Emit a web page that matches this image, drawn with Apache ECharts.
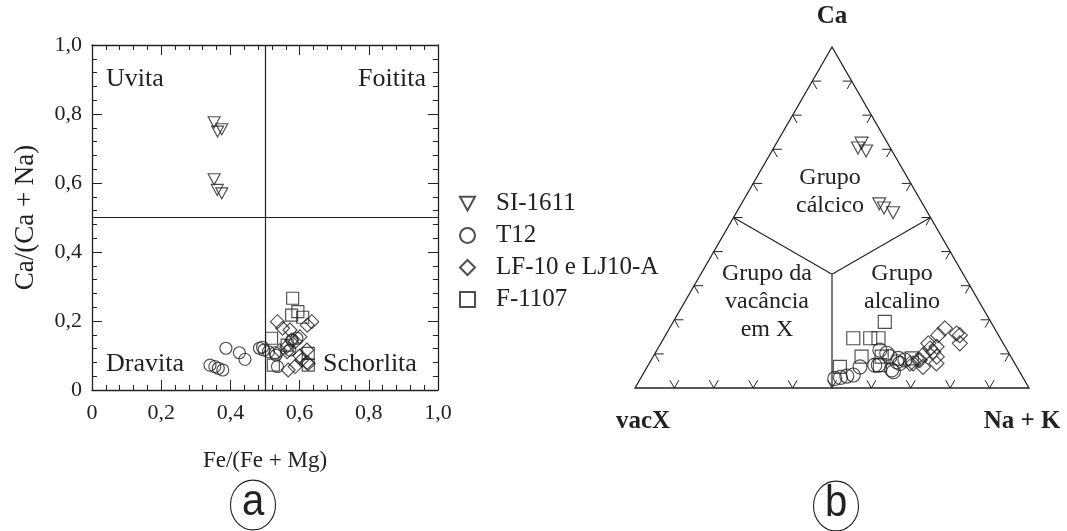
<!DOCTYPE html>
<html>
<head>
<meta charset="utf-8">
<script src="https://cdn.jsdelivr.net/npm/echarts@6.0.0/dist/echarts.min.js"></script>
<style>
  html, body { margin: 0; padding: 0; background: #fff; }
  #chart { width: 1067px; height: 531px; }
</style>
</head>
<body>
<div id="chart"></div>
<script>
// ---- Panel (a): Fe/(Fe + Mg) vs Ca/(Ca + Na), pairs [x, y] ----
const si1611A = [[0.353, 0.776], [0.375, 0.756], [0.363, 0.749], [0.353, 0.611], [0.362, 0.580], [0.375, 0.570]];
const t12A = [[0.341, 0.072], [0.355, 0.068], [0.365, 0.063], [0.378, 0.058], [0.387, 0.121], [0.426, 0.108],
  [0.442, 0.089], [0.484, 0.121], [0.493, 0.124], [0.497, 0.116], [0.510, 0.111], [0.529, 0.108],
  [0.532, 0.101], [0.536, 0.068], [0.572, 0.116], [0.578, 0.145], [0.592, 0.150]];
const lfA = [[0.536, 0.198], [0.551, 0.179], [0.635, 0.198], [0.622, 0.188], [0.601, 0.154], [0.587, 0.140],
  [0.577, 0.145], [0.563, 0.126], [0.543, 0.114], [0.564, 0.111], [0.601, 0.099], [0.621, 0.116],
  [0.606, 0.087], [0.621, 0.079], [0.625, 0.077], [0.587, 0.068], [0.567, 0.058], [0.572, 0.174]];
const f1107A = [[0.580, 0.266], [0.577, 0.217], [0.595, 0.227], [0.609, 0.211], [0.519, 0.150], [0.524, 0.072],
  [0.625, 0.106], [0.625, 0.072], [0.564, 0.130]];

// ---- Panel (b): ternary Ca – vacX – (Na + K), triples [Ca, Na+K, vacX] ----
const si1611B = [[0.718, 0.216, 0.066], [0.695, 0.239, 0.066], [0.704, 0.214, 0.082],
  [0.540, 0.350, 0.110], [0.528, 0.368, 0.104], [0.514, 0.398, 0.088]];
const t12B = [[0.028, 0.493, 0.479], [0.031, 0.506, 0.463], [0.035, 0.520, 0.445], [0.038, 0.535, 0.427],
  [0.062, 0.540, 0.398], [0.067, 0.575, 0.358], [0.102, 0.588, 0.310], [0.053, 0.625, 0.322],
  [0.077, 0.626, 0.297], [0.072, 0.636, 0.292], [0.087, 0.625, 0.288], [0.067, 0.584, 0.349],
  [0.092, 0.601, 0.307], [0.048, 0.632, 0.320], [0.111, 0.566, 0.323], [0.082, 0.644, 0.274]];
const lfB = [[0.175, 0.699, 0.126], [0.155, 0.747, 0.098], [0.131, 0.759, 0.110], [0.155, 0.692, 0.153],
  [0.116, 0.691, 0.193], [0.121, 0.705, 0.174], [0.097, 0.683, 0.220], [0.082, 0.678, 0.240],
  [0.072, 0.670, 0.258], [0.062, 0.700, 0.238], [0.072, 0.729, 0.199], [0.092, 0.720, 0.188],
  [0.106, 0.704, 0.190], [0.131, 0.679, 0.190], [0.160, 0.736, 0.104], [0.082, 0.682, 0.236],
  [0.072, 0.662, 0.266]];
const f1107B = [[0.194, 0.537, 0.269], [0.146, 0.481, 0.373], [0.146, 0.524, 0.330], [0.146, 0.545, 0.309],
  [0.092, 0.529, 0.379], [0.092, 0.580, 0.328], [0.087, 0.659, 0.254], [0.062, 0.489, 0.449],
  [0.067, 0.588, 0.345]];

// ticks along each side of the triangle
const ternaryTicks = [0.1, 0.2, 0.3, 0.4, 0.5, 0.6, 0.7, 0.8, 0.9];
// field boundaries: from the centroid to the middle of each side, [Ca, Na+K]
const fieldCentre = [1 / 3, 1 / 3];
const fieldEnds = [[0.5, 0], [0.5, 0.5], [0, 0.5]];

const seriesNames = ['SI-1611', 'T12', 'LF-10 e LJ10-A', 'F-1107'];

const INK = '#222';
const SERIF = '"Liberation Serif", "Times New Roman", serif';
const SQ3 = Math.sqrt(3) / 2;

// ternary [Ca, Na+K] -> cartesian (vacX at origin, Na+K at x = 1)
function tern(ca, nak) { return [nak + ca / 2, ca * SQ3]; }

const hollow = { color: 'rgba(0,0,0,0)', borderColor: INK, borderWidth: 1.15 };
const downTri = 'path://M0,0 L12,0 L6,11 Z';

const symbols = {
  'SI-1611': { symbol: downTri, a: [12, 11], b: [13, 12] },
  'T12': { symbol: 'circle', a: 12, b: 14 },
  'LF-10 e LJ10-A': { symbol: 'diamond', a: 14, b: 15 },
  'F-1107': { symbol: 'rect', a: 12, b: 13 }
};

const dataA = { 'SI-1611': si1611A, 'T12': t12A, 'LF-10 e LJ10-A': lfA, 'F-1107': f1107A };
const dataB = { 'SI-1611': si1611B, 'T12': t12B, 'LF-10 e LJ10-A': lfB, 'F-1107': f1107B };

function tickLabel(v) {
  if (v === 0) return '0';
  return v.toFixed(1).replace('.', ',');
}

const tickCommon = {
  axisLine: { show: true, onZero: false, lineStyle: { color: INK, width: 1.3 } },
  axisTick: { show: true, inside: true, length: 10, lineStyle: { color: INK, width: 1 } },
  minorTick: { show: true, splitNumber: 5, length: 5, lineStyle: { color: INK, width: 1 } },
  splitLine: { show: false },
  minorSplitLine: { show: false }
};

function renderTernaryFrame(params, api) {
  const P = (ca, nak) => api.coord(tern(ca, nak));
  const lineStyle = { stroke: INK, lineWidth: 1.2, fill: null };
  const children = [];
  const apex = P(1, 0), vac = P(0, 0), nak = P(0, 1);
  children.push({ type: 'polygon', shape: { points: [apex, vac, nak] },
    style: { stroke: INK, lineWidth: 1.3, fill: null } });
  const c = P(fieldCentre[0], fieldCentre[1]);
  fieldEnds.forEach(e => {
    const m = P(e[0], e[1]);
    children.push({ type: 'line', shape: { x1: c[0], y1: c[1], x2: m[0], y2: m[1] }, style: lineStyle });
  });
  const L = 9;
  const seg = (p, dx, dy) => ({ type: 'line',
    shape: { x1: p[0], y1: p[1], x2: p[0] + dx * L, y2: p[1] + dy * L }, style: { stroke: INK, lineWidth: 1 } });
  ternaryTicks.forEach(f => {
    const b = P(0, f);        // base
    children.push(seg(b, -0.5, -SQ3), seg(b, 0.5, -SQ3));
    const l = P(f, 0);        // vacX – Ca side
    children.push(seg(l, 1, 0), seg(l, 0.5, SQ3));
    const r = P(f, 1 - f);    // Na+K – Ca side
    children.push(seg(r, -1, 0), seg(r, -0.5, SQ3));
  });
  return { type: 'group', children };
}

const series = [];
seriesNames.forEach(name => {
  const s = symbols[name];
  series.push({
    name, type: 'scatter', xAxisIndex: 0, yAxisIndex: 0,
    symbol: s.symbol, symbolSize: s.a, itemStyle: hollow, z: 5,
    data: dataA[name]
  });
});
// quadrant boundaries at 0.5
series[0].markLine = {
  silent: true, symbol: 'none', label: { show: false },
  lineStyle: { color: INK, width: 1.2, type: 'solid' },
  data: [{ xAxis: 0.5 }, { yAxis: 0.5 }]
};
series.push({
  type: 'custom', xAxisIndex: 2, yAxisIndex: 2, silent: true, z: 2,
  renderItem: renderTernaryFrame, data: [[0, 0]]
});
seriesNames.forEach(name => {
  const s = symbols[name];
  series.push({
    name, type: 'scatter', xAxisIndex: 2, yAxisIndex: 2,
    symbol: s.symbol, symbolSize: s.b, itemStyle: hollow, z: 5,
    data: dataB[name].map(d => tern(d[0], d[1]))
  });
});

const textA = (text, x, y, align) => ({
  type: 'text', x, y,
  style: { text, fill: INK, font: '26px ' + SERIF, textAlign: align || 'left', textVerticalAlign: 'middle' }
});
const textB = (text, x, y, bold) => ({
  type: 'text', x, y,
  style: { text, fill: INK, font: (bold ? 'bold 25px ' : '24px ') + SERIF, textAlign: 'center',
    textVerticalAlign: 'middle', lineHeight: 28 }
});
const badge = (letter, x, y) => ({
  type: 'group', x, y,
  children: [
    { type: 'circle', shape: { cx: 0, cy: 0, r: 22.5 }, scaleY: 1.11,
      style: { stroke: INK, lineWidth: 1.1, fill: null } },
    { type: 'text', x: 0, y: -2, scaleY: 1.1,
      style: { text: letter, fill: INK, font: '40px "Liberation Sans", Arial, sans-serif',
        textAlign: 'center', textVerticalAlign: 'middle' } }
  ]
});

const option = {
  animation: false,
  backgroundColor: '#fff',
  grid: [
    { left: 92, top: 45, width: 346, height: 345 },
    { left: 635, top: 47, width: 394, height: 341 }
  ],
  xAxis: [
    Object.assign({ gridIndex: 0, type: 'value', min: 0, max: 1, interval: 0.2, position: 'bottom',
      name: 'Fe/(Fe + Mg)', nameLocation: 'middle', nameGap: 59,
      nameTextStyle: { fontFamily: SERIF, fontSize: 23, color: INK },
      axisLabel: { formatter: tickLabel, fontFamily: SERIF, fontSize: 22, color: INK, margin: 12 } }, tickCommon),
    Object.assign({ gridIndex: 0, type: 'value', min: 0, max: 1, interval: 0.2, position: 'top',
      axisLabel: { show: false } }, tickCommon),
    { gridIndex: 1, type: 'value', min: 0, max: 1, show: false }
  ],
  yAxis: [
    Object.assign({ gridIndex: 0, type: 'value', min: 0, max: 1, interval: 0.2, position: 'left',
      name: 'Ca/(Ca + Na)', nameLocation: 'middle', nameGap: 53,
      nameTextStyle: { fontFamily: SERIF, fontSize: 27, color: INK },
      axisLabel: { formatter: tickLabel, fontFamily: SERIF, fontSize: 22, color: INK, margin: 10 } }, tickCommon),
    Object.assign({ gridIndex: 0, type: 'value', min: 0, max: 1, interval: 0.2, position: 'right',
      axisLabel: { show: false } }, tickCommon),
    { gridIndex: 1, type: 'value', min: 0, max: SQ3, show: false }
  ],
  legend: {
    data: seriesNames,
    orient: 'vertical', left: 459, top: 191,
    itemWidth: 15, itemHeight: 15, itemGap: 7, padding: 0,
    selectedMode: false,
    textStyle: { fontFamily: SERIF, fontSize: 25, color: INK, padding: [0, 0, 0, 16], lineHeight: 25 }
  },
  graphic: [
    textA('Uvita', 106, 79), textA('Foitita', 426, 79, 'right'),
    textA('Dravita', 106, 364), textA('Schorlita', 323, 364),
    textB('Ca', 832, 17, true), textB('vacX', 643, 422, true), textB('Na + K', 1022, 422, true),
    textB('Grupo\ncálcico', 830, 192), textB('Grupo da\nvacância\nem X', 767, 302),
    textB('Grupo\nalcalino', 902, 288),
    badge('a', 253, 505), badge('b', 836, 506)
  ],
  series
};

echarts.init(document.getElementById('chart'), null, { renderer: 'canvas' }).setOption(option);
</script>
</body>
</html>
